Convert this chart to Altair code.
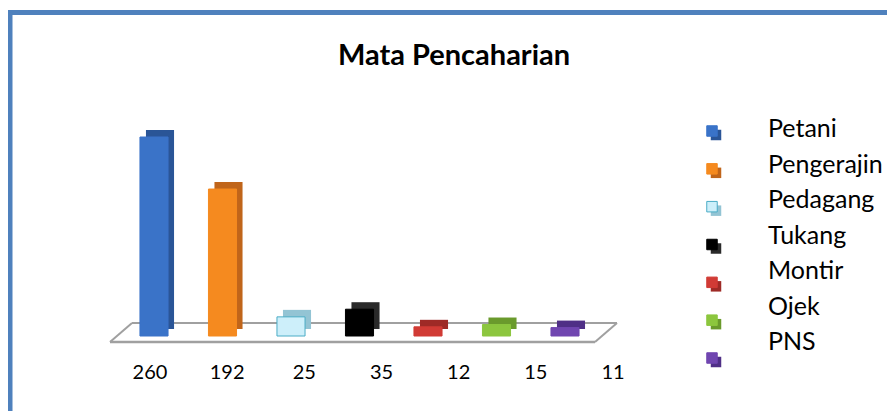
import altair as alt
import pandas as pd

# ---- data ----
categories = ["Petani", "Pengerajin", "Pedagang", "Tukang", "Montir", "Ojek", "PNS"]
values = [260, 192, 25, 35, 12, 15, 11]
title_text = "Mata Pencaharian"

# ---- styles ----
FACE = ["#3A73C8", "#F58A1F", "#CDEFFA", "#000000", "#D13B35", "#8CC63E", "#7046B0"]
SIDE = ["#2A5597", "#C0651A", "#93C4D4", "#2A2A2A", "#9E2A26", "#6A9A2C", "#4F2F86"]
STROKE = ["#3A73C8", "#F58A1F", "#4BACC6", "#000000", "#D13B35", "#8CC63E", "#7046B0"]
FONT = "Lato"
BORDER = "#4F81BD"

df = pd.DataFrame({"cat": categories, "value": values})
df["label"] = df["value"].astype(str)

W, H = 879, 403
base = alt.Chart(df)

xband = alt.X("cat:N", sort=categories, axis=None,
              scale=alt.Scale(type="band", domain=categories, range=[111.75, 591.25],
                              paddingInner=0.59, paddingOuter=0.295))
ylin = alt.Y("value:Q", axis=None,
             scale=alt.Scale(domain=[0, 260], range=[328, 129], zero=True, nice=False))

# floor (decorative parallelogram)
floor_col = "#A0A0A0"
def rule(x1, y1, x2, y2, w=2):
    return alt.Chart(pd.DataFrame({"d": [0]})).mark_rule(color=floor_col, strokeWidth=w).encode(
        x=alt.value(x1), y=alt.value(y1), x2=alt.value(x2), y2=alt.value(y2))

floor = alt.layer(
    rule(124, 315, 609, 315),
    rule(102, 334, 587, 334, 2.5),
    rule(124, 315, 102, 334),
    rule(609, 315, 587, 334),
)

side = base.mark_bar(xOffset=6, yOffset=-7).encode(
    x=xband, y=ylin,
    color=alt.Color("cat:N", scale=alt.Scale(domain=categories, range=SIDE), legend=None),
)
front = base.mark_bar(strokeWidth=1).encode(
    x=xband, y=ylin,
    color=alt.Color("cat:N", scale=alt.Scale(domain=categories, range=FACE), legend=None),
    stroke=alt.Stroke("cat:N", scale=alt.Scale(domain=categories, range=STROKE), legend=None),
)

labels = base.mark_text(font=FONT, fontSize=20, color="#000000", baseline="middle", align="center").encode(
    x=alt.X("cat:N", axis=None, scale=alt.Scale(type="point", domain=categories, range=[142, 605], padding=0)),
    y=alt.value(365),
    text="label:N",
)

title = alt.Chart(pd.DataFrame({"d": [0]})).mark_text(
    font=FONT, fontSize=29, fontWeight="bold", color="#000000", align="center", baseline="alphabetic"
).encode(x=alt.value(446), y=alt.value(57), text=alt.value(title_text))

# custom legend
sym_y = alt.Y("cat:N", axis=None, scale=alt.Scale(type="point", domain=categories, range=[123, 350], padding=0))
lab_y = alt.Y("cat:N", axis=None, scale=alt.Scale(type="point", domain=categories, range=[121, 334], padding=0))

leg_shadow = base.mark_square(size=110, opacity=1, xOffset=4, yOffset=4).encode(
    x=alt.value(704), y=sym_y,
    color=alt.Color("cat:N", scale=alt.Scale(domain=categories, range=SIDE), legend=None),
)
leg_face = base.mark_square(size=110, opacity=1, strokeWidth=1).encode(
    x=alt.value(704), y=sym_y,
    color=alt.Color("cat:N", scale=alt.Scale(domain=categories, range=FACE), legend=None),
    stroke=alt.Stroke("cat:N", scale=alt.Scale(domain=categories, range=STROKE), legend=None),
)
leg_text = base.mark_text(font=FONT, fontSize=25, color="#000000", align="left", baseline="middle").encode(
    x=alt.value(760), y=lab_y, text="cat:N",
)

# frame border (top and left edges)
border_top = alt.Chart(pd.DataFrame({"d": [0]})).mark_rule(color=BORDER, strokeWidth=5).encode(
    x=alt.value(0), x2=alt.value(W), y=alt.value(4.5))
border_left = alt.Chart(pd.DataFrame({"d": [0]})).mark_rule(color=BORDER, strokeWidth=5).encode(
    x=alt.value(2), y=alt.value(2), y2=alt.value(H))

chart = alt.layer(
    floor, side, front, labels, title, leg_shadow, leg_face, leg_text, border_top, border_left
).resolve_scale(
    x="independent", y="independent", color="independent", stroke="independent"
).properties(
    width=W, height=H, autosize=alt.AutoSizeParams(type="none"), padding=0, background="white"
).configure_view(stroke=None)

chart.save("out.html", embed_options={"renderer": "svg", "actions": False})
